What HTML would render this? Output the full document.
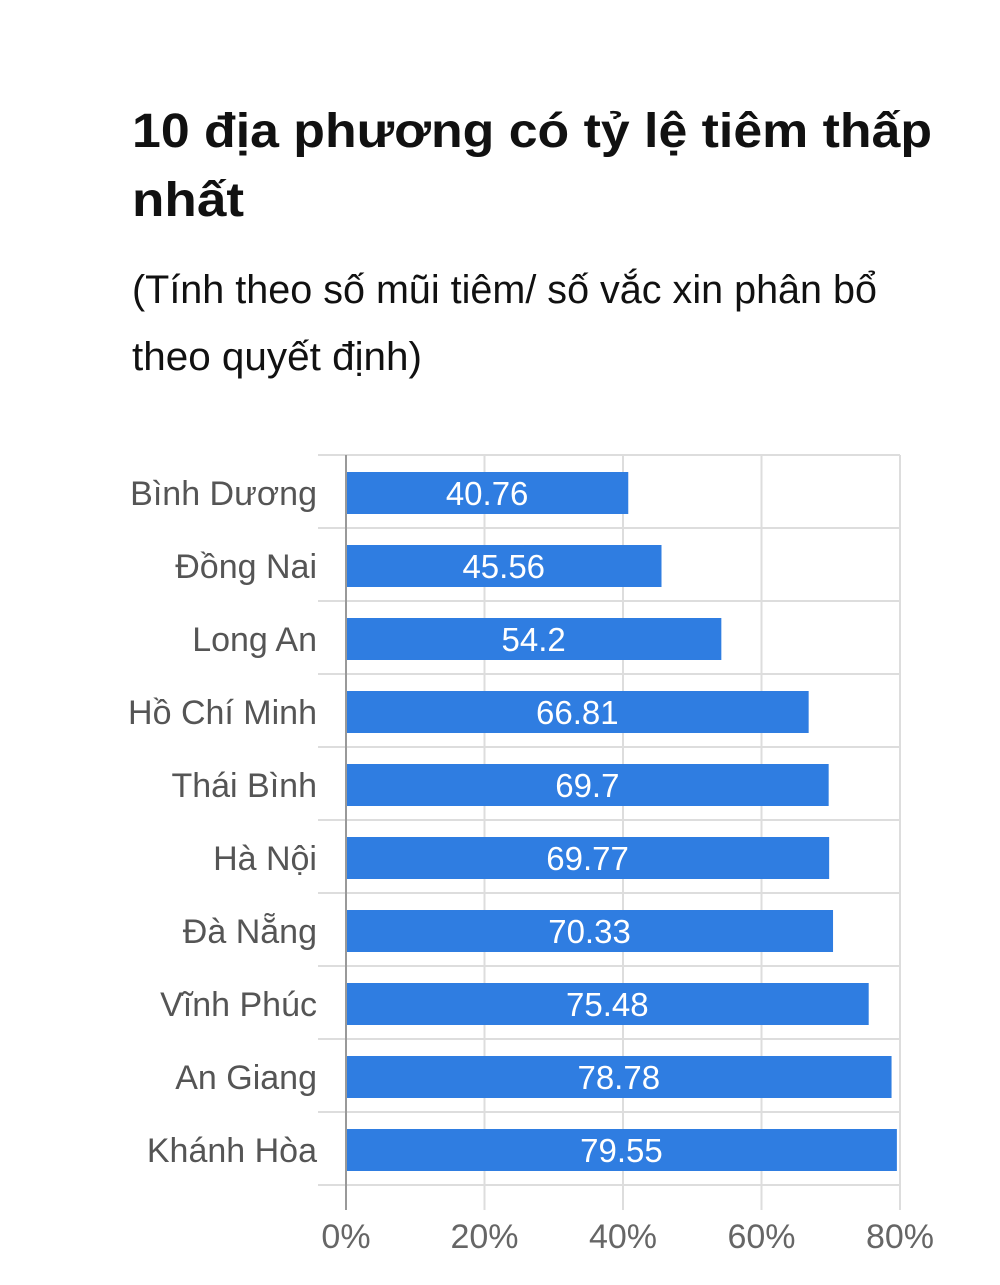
<!DOCTYPE html>
<html><head><meta charset="utf-8"><style>
body{margin:0;background:#fff;width:1000px;height:1285px;overflow:hidden}
svg{display:block}
</style></head><body>
<svg width="1000" height="1285" xmlns="http://www.w3.org/2000/svg" font-family="Liberation Sans, DejaVu Sans, sans-serif">
<text x="132" y="147" font-size="48" font-weight="bold" fill="#111" textLength="800" lengthAdjust="spacingAndGlyphs">10 địa phương có tỷ lệ tiêm thấp</text>
<text x="132" y="216" font-size="48" font-weight="bold" fill="#111" textLength="112" lengthAdjust="spacingAndGlyphs">nhất</text>
<text x="132" y="303" font-size="40" fill="#111" textLength="745" lengthAdjust="spacingAndGlyphs">(Tính theo số mũi tiêm/ số vắc xin phân bổ</text>
<text x="132" y="370" font-size="40" fill="#111" textLength="290" lengthAdjust="spacingAndGlyphs">theo quyết định)</text>
<g stroke="#ddd" stroke-width="2">
<line x1="484.5" y1="455" x2="484.5" y2="1210"/>
<line x1="623" y1="455" x2="623" y2="1210"/>
<line x1="761.5" y1="455" x2="761.5" y2="1210"/>
<line x1="900" y1="455" x2="900" y2="1210"/>
</g>
<g stroke="#ddd" stroke-width="2" id="h"></g>
<g id="rows"></g>
<line x1="346" y1="455" x2="346" y2="1210" stroke="#999" stroke-width="2"/>
<g font-size="34" fill="#666" text-anchor="middle">
<text x="346" y="1248">0%</text><text x="484.5" y="1248">20%</text><text x="623" y="1248">40%</text><text x="761.5" y="1248">60%</text><text x="900" y="1248">80%</text>
</g>
<script>
var d=[["Bình Dương",40.76],["Đồng Nai",45.56],["Long An",54.2],["Hồ Chí Minh",66.81],["Thái Bình",69.7],["Hà Nội",69.77],["Đà Nẵng",70.33],["Vĩnh Phúc",75.48],["An Giang",78.78],["Khánh Hòa",79.55]];
var ns="http://www.w3.org/2000/svg",h=document.getElementById("h"),r=document.getElementById("rows");
function el(p,t,a,txt){var e=document.createElementNS(ns,t);for(var k in a)e.setAttribute(k,a[k]);if(txt)e.textContent=txt;p.appendChild(e);return e;}
for(var i=0;i<=10;i++){var y=455+i*73;el(h,"line",{x1:318,y1:y,x2:900,y2:y});}
d.forEach(function(v,i){var yc=493+i*73,w=v[1]*6.925;
el(r,"rect",{x:346,y:yc-21,width:w,height:42,fill:"#2f7de1"});
el(r,"text",{x:346+w/2,y:yc+12,"font-size":33,fill:"#fff","text-anchor":"middle"},String(v[1]));
el(r,"text",{x:317,y:yc+12,"font-size":34,fill:"#555","text-anchor":"end"},v[0]);});
</script>
</svg>
</body></html>
